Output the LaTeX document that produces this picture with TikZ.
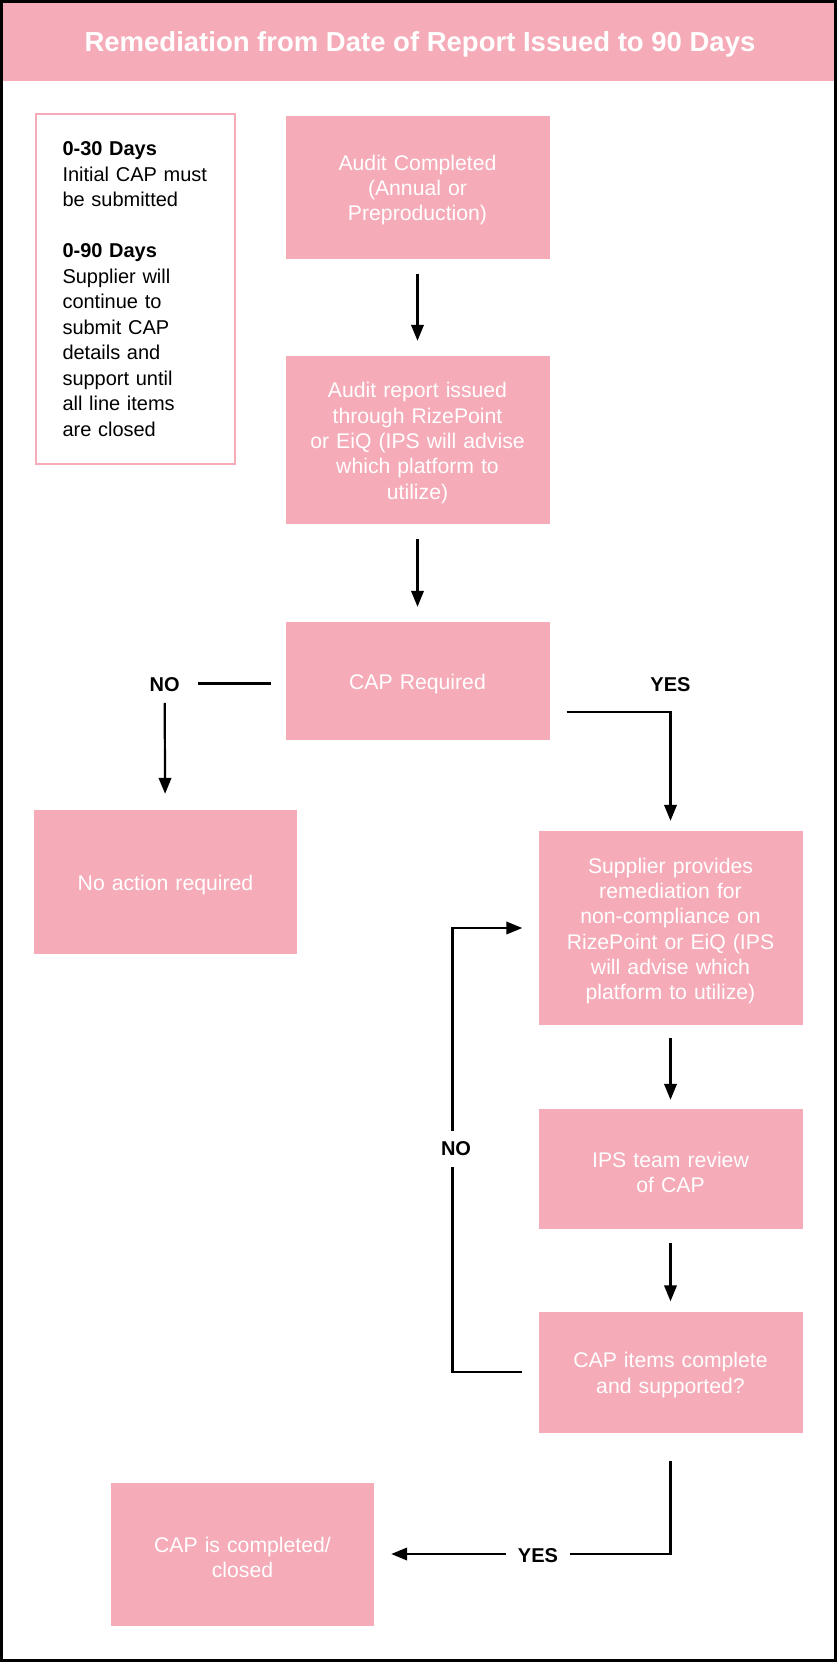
\documentclass[tikz,border=0pt]{standalone}
\usepackage{fontspec}
\setmainfont{Liberation Sans}
\usepackage{xcolor}
\usepackage{tikz}
\usetikzlibrary{arrows.meta}
\usetikzlibrary{calc}
\definecolor{rosebox}{RGB}{245,171,184}

\begin{document}
\begin{tikzpicture}[x=1pt,y=-1pt,
  stage/.style={fill=rosebox, text=white, inner sep=0pt, text width=250pt, align=center, minimum width=264pt, font=\fontsize{21.2}{25.3}\selectfont, execute at begin node={\rule{0pt}{21.5pt}}},
  tag/.style={font=\bfseries\fontsize{20}{24}\selectfont, fill=white, inner xsep=12pt, inner ysep=11pt},
  flow/.style={line width=2.2pt, draw=black},
  flowarr/.style={flow, -{Triangle[length=16pt,width=12.5pt]}}]

\useasboundingbox (0,0) rectangle (837,1662);
\fill[rosebox] (0,0) rectangle (837,80.5);
\node[anchor=base, text=white, font=\bfseries\fontsize{27.5}{33}\selectfont] (title) at (420,51.7) {Remediation from Date of Report Issued to 90 Days};

\node[draw=rosebox, line width=2.5pt, text=black, minimum width=199pt, minimum height=350pt, text width=146pt, align=left, inner xsep=0pt, font=\fontsize{20}{25.5}\selectfont] (note) at (135.5,289) {\textbf{0-30 Days}\\Initial CAP must\\be submitted\\[25.5pt]\textbf{0-90 Days}\\Supplier will\\continue to\\submit CAP\\details and\\support until\\all line items\\are closed};

\node[stage, minimum height=143pt] (audit) at (417.5,187) {Audit Completed\\(Annual or\\Preproduction)};
\node[stage, minimum height=168pt] (report) at (417.5,440) {Audit report issued\\through RizePoint\\or EiQ (IPS will advise\\which platform to\\utilize)};
\node[stage, minimum height=118pt] (capreq) at (417.5,681) {CAP Required};
\node[stage, minimum width=263pt, minimum height=144pt] (noaction) at (165.5,882) {No action required};
\node[stage, minimum height=194pt] (supplier) at (670.5,928) {Supplier provides\\remediation for\\non-compliance on\\RizePoint or EiQ (IPS\\will advise which\\platform to utilize)};
\node[stage, minimum height=120pt] (review) at (670.5,1169) {IPS team review\\of CAP};
\node[stage, minimum height=121pt] (complete) at (670.5,1372) {CAP items complete\\and supported?};
\node[stage, minimum width=263pt, minimum height=143pt] (closed) at (242.5,1554) {CAP is completed/\\closed};

\node[tag] (nofirst) at (164.6,684.5) {NO};
\node[tag] (yesfirst) at (670.5,684.5) {YES};
\coordinate (noturn) at (452.5,1148.8);

\draw[flowarr, shorten <=15pt, shorten >=15pt] (audit) -- (report);
\draw[flowarr, shorten <=15pt, shorten >=15pt] (report) -- (capreq);
\draw[flow, shorten <=14pt, shorten >=6pt] ([yshift=-2.5pt]capreq.west) -- ([yshift=-2.5pt]capreq.west -| nofirst.east);
\draw[flowarr, shorten >=16pt] (nofirst) -- (noaction);
\draw[flowarr, shorten <=17pt, shorten >=10pt] ([yshift=-31pt]capreq.east) -| (supplier);
\draw[flowarr, shorten <=13pt, shorten >=9pt] (supplier) -- (review);
\draw[flowarr, shorten <=14pt, shorten >=10pt] (review) -- (complete);
\draw[flowarr, shorten <=16pt, shorten >=16pt] (complete.west) -| (noturn) |- (supplier.west);
\draw[flowarr, shorten <=28pt, shorten >=17pt] (complete.south) |- (closed.east);

\node[tag] (noloop) at ([xshift=3.5pt]noturn) {NO};
\node[tag] (yesloop) at (538,1555.5) {YES};

\draw[line width=2.6pt] (1.3,1.3) rectangle (835.7,1660.7);
\end{tikzpicture}
\end{document}
